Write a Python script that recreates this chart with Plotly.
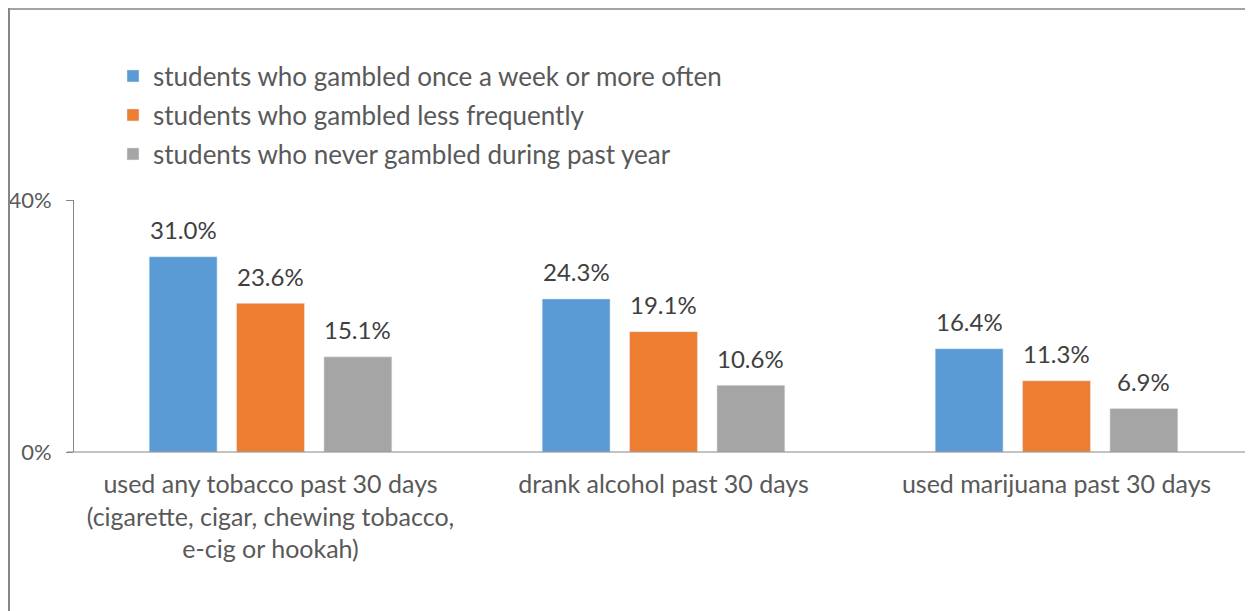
import plotly.graph_objects as go

categories = [
    "used any tobacco past 30 days<br>(cigarette, cigar, chewing tobacco,<br>e-cig or hookah)",
    "drank alcohol past 30 days",
    "used marijuana past 30 days",
]
series_names = [
    "students who gambled once a week or more often",
    "students who gambled less frequently",
    "students who never gambled during past year",
]
weekly = [31.0, 24.3, 16.4]
less_freq = [23.6, 19.1, 11.3]
never = [15.1, 10.6, 6.9]
colors = ["#5B9BD5", "#ED7D31", "#A5A5A5"]
tick_vals = [0, 40]
tick_text = ["0%", "40%"]

FONT = "Lato"
TXT = "#595959"
LBL = "#404040"

# page body has an 8px margin; work in screen coordinates and convert
OFF = 8
W, H = 1253 - OFF, 611 - OFF
ml, mr, mt, mb = 74 - OFF, 0, 200 - OFF, 611 - 452
pw, ph = W - ml - mr, H - mt - mb

BARGAP = 0.333
GROUPGAP = 0.223


def sx(px):
    return (px - OFF - ml) / pw


def sy(py):
    return (H - mb - (py - OFF)) / ph


fig = go.Figure()
legends = ["legend", "legend2", "legend3"]
all_vals = [weekly, less_freq, never]
for i, (name, vals) in enumerate(zip(series_names, all_vals)):
    fig.add_trace(go.Bar(
        x=categories, y=vals, name=name, marker_color=colors[i],
        legend=legends[i], hoverinfo="x+y",
    ))

# data labels placed at each bar's value through the axes
cat_px = pw / len(categories)
slot_px = cat_px * (1 - BARGAP) / 3
annotations = []
for i, vals in enumerate(all_vals):
    for c, v in zip(categories, vals):
        annotations.append(dict(
            x=c, y=v, xref="x", yref="y", text=f"{v:.1f}%", showarrow=False,
            xshift=(i - 1) * slot_px, yshift=27, yanchor="middle",
            font=dict(family=FONT, size=24, color=LBL),
        ))

leg_common = dict(font=dict(family=FONT, size=26, color=TXT), bgcolor="rgba(0,0,0,0)",
                  xanchor="left", yanchor="middle", itemclick=False)
layout_legends = {}
for lg, yy in zip(legends, [76, 115, 154]):
    layout_legends[lg] = dict(x=sx(113), y=sy(yy), **leg_common)

fig.update_layout(
    width=W, height=H,
    margin=dict(l=ml, r=mr, t=mt, b=mb, autoexpand=False),
    paper_bgcolor="white", plot_bgcolor="white",
    barmode="group", bargap=BARGAP, bargroupgap=GROUPGAP,
    showlegend=True,
    **layout_legends,
    annotations=annotations,
    xaxis=dict(showline=False, ticks="", ticklabelstandoff=15, automargin=False,
               tickfont=dict(family=FONT, size=25, color=TXT), showgrid=False,
               fixedrange=True),
    yaxis=dict(range=[0, 40], tickvals=tick_vals, ticktext=tick_text,
               showline=True, linecolor="#868686", linewidth=1,
               ticks="outside", ticklen=7, tickcolor="#868686",
               ticklabelstandoff=10, automargin=False,
               tickfont=dict(family=FONT, size=22, color=TXT), showgrid=False,
               zeroline=False, fixedrange=True),
    shapes=[
        dict(type="line", xref="paper", yref="paper",
             x0=sx(9), x1=sx(9), y0=sy(OFF), y1=sy(611),
             line=dict(color="#868686", width=2)),
        dict(type="line", xref="paper", yref="paper",
             x0=sx(9), x1=sx(1253), y0=sy(OFF + 1), y1=sy(OFF + 1),
             line=dict(color="#868686", width=1.5)),
        dict(type="line", xref="paper", yref="paper",
             x0=sx(67), x1=1.0, y0=0, y1=0,
             line=dict(color="#868686", width=1)),
    ],
)

fig.write_html("out.html")
